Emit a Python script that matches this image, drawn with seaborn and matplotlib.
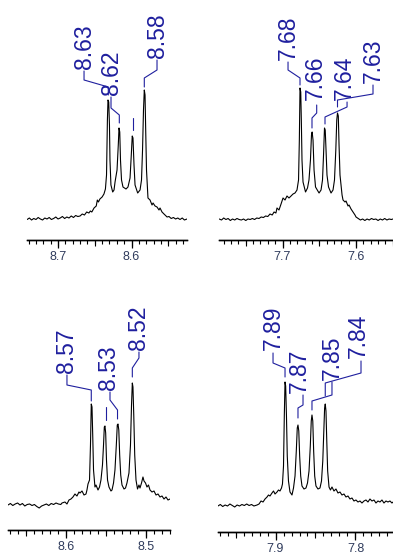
import matplotlib
matplotlib.use("Agg")
import matplotlib.pyplot as plt
from matplotlib.ticker import MultipleLocator, FuncFormatter, NullFormatter
import seaborn as sns
import pandas as pd

sns.set_style("ticks")
plt.rcParams["font.family"] = ["Liberation Sans", "DejaVu Sans"]

# ---------------- data (ppm, intensity) ----------------
spec_a = [
    (8.742, 0.5), (8.739, 2), (8.736, 0), (8.733, 1.5), (8.730, 0.5), (8.727, 2.5),
    (8.724, 1), (8.721, 0), (8.718, 2), (8.715, 1), (8.712, 2.5), (8.709, 0.5),
    (8.706, 1.5), (8.703, 3), (8.700, 1), (8.697, 2), (8.694, 3.5), (8.691, 1.5),
    (8.688, 3), (8.685, 2), (8.682, 4), (8.679, 2.5), (8.676, 4.5), (8.673, 3.5),
    (8.670, 4), (8.667, 6), (8.664, 5), (8.661, 8), (8.658, 7), (8.656, 9),
    (8.654, 8), (8.651, 12), (8.648, 14), (8.6465, 20), (8.645, 18), (8.643, 21),
    (8.640, 23), (8.6375, 26), (8.6355, 31), (8.634, 45), (8.6328, 100), (8.632, 120),
    (8.631, 118), (8.630, 95), (8.6293, 60), (8.628, 35), (8.6256, 28), (8.6238, 30),
    (8.6224, 38), (8.6197, 50), (8.618, 75), (8.617, 92), (8.616, 88), (8.615, 60),
    (8.6136, 40), (8.6116, 33), (8.6075, 31), (8.6048, 33), (8.602, 42), (8.6003, 65),
    (8.599, 84), (8.598, 82), (8.5966, 55), (8.5952, 35), (8.5916, 27), (8.5884, 30),
    (8.5864, 40), (8.585, 70), (8.5837, 110), (8.5826, 130), (8.5816, 125), (8.5807, 90),
    (8.5796, 50), (8.5776, 22), (8.5748, 20), (8.5721, 15), (8.5707, 17), (8.568, 14),
    (8.5653, 13), (8.5626, 10), (8.5612, 12), (8.5585, 8), (8.5558, 6), (8.553, 4),
    (8.5517, 3), (8.549, 3.5), (8.546, 1.5), (8.543, 2.5), (8.540, 1), (8.537, 2),
    (8.534, 0.5), (8.531, 2), (8.528, 0), (8.5245, 1),
]

spec_b = [
    (7.786, 1), (7.783, 0), (7.780, 2), (7.777, 0.5), (7.774, 1.5), (7.771, -0.5),
    (7.768, 1), (7.765, 0), (7.762, 1.5), (7.759, 0.5), (7.756, 0), (7.753, 1),
    (7.750, -0.5), (7.747, 1), (7.744, 0.5), (7.741, 1.5), (7.738, 0.5), (7.735, 2),
    (7.732, 1.5), (7.729, 3), (7.726, 2.5), (7.723, 4), (7.720, 3.5), (7.717, 6),
    (7.714, 5), (7.7115, 8), (7.709, 7), (7.7075, 12), (7.7048, 10), (7.702, 16),
    (7.6993, 22), (7.6966, 20), (7.6939, 24), (7.6912, 22), (7.6884, 24), (7.6857, 26),
    (7.683, 27), (7.6803, 30), (7.6782, 40), (7.6771, 80), (7.6762, 132), (7.6752, 128),
    (7.6744, 100), (7.6735, 60), (7.6721, 38), (7.6687, 28), (7.666, 32), (7.664, 40),
    (7.662, 60), (7.6606, 85), (7.6597, 88), (7.6585, 80), (7.6571, 50), (7.6551, 33),
    (7.6503, 27), (7.6476, 30), (7.6456, 40), (7.6442, 65), (7.6429, 92), (7.6419, 90),
    (7.6408, 70), (7.6395, 45), (7.6374, 33), (7.634, 27), (7.6313, 30), (7.6293, 40),
    (7.6275, 70), (7.6262, 100), (7.6252, 107), (7.6241, 104), (7.6231, 75), (7.6218, 45),
    (7.619, 25), (7.6177, 20), (7.615, 18), (7.6136, 19), (7.6109, 14), (7.6095, 15),
    (7.6068, 11), (7.6041, 8), (7.6014, 5), (7.600, 3), (7.597, 1.5), (7.594, 0),
    (7.591, 1), (7.588, -0.5), (7.585, 1), (7.582, 0), (7.579, 1.5), (7.576, 0.5),
    (7.573, 1), (7.570, -0.5), (7.567, 1), (7.564, 0), (7.561, 1.5), (7.558, 0),
    (7.555, 1), (7.552, 0.5), (7.5497, 1),
]

spec_c = [
    (8.6725, 0), (8.6695, 1.5), (8.6665, -0.5), (8.6635, 1), (8.6605, 2), (8.6575, 0),
    (8.6545, 1.5), (8.6515, -1), (8.6485, 0.5), (8.6455, 1), (8.6425, -0.5), (8.6395, 0.5),
    (8.6365, -1.5), (8.6335, -3), (8.6305, -1), (8.6275, 0), (8.6245, 1), (8.6215, -0.5),
    (8.6185, 1.5), (8.6155, 0.5), (8.6125, 2), (8.6095, 1), (8.6065, 0.5),
    (8.605, 2), (8.6013, 3), (8.5988, 1), (8.5963, 5), (8.5938, 6), (8.5913, 8),
    (8.5888, 11), (8.5863, 9), (8.5838, 13), (8.5825, 12), (8.58, 14), (8.5775, 10),
    (8.575, 11), (8.5738, 15), (8.5725, 21), (8.5706, 25), (8.5694, 60), (8.5684, 101),
    (8.5675, 98), (8.5666, 70), (8.5656, 35), (8.5638, 18), (8.5625, 20), (8.56, 15),
    (8.5581, 18), (8.5563, 25), (8.5544, 40), (8.5531, 60), (8.5521, 78), (8.5513, 79),
    (8.5504, 72), (8.5494, 45), (8.5481, 25), (8.5463, 18), (8.5438, 14), (8.5425, 15),
    (8.5406, 22), (8.5388, 35), (8.5371, 60), (8.5359, 80), (8.535, 81), (8.534, 75),
    (8.5329, 50), (8.5316, 30), (8.53, 20), (8.5275, 16), (8.5256, 17), (8.5238, 22),
    (8.5213, 32), (8.5194, 60), (8.5181, 100), (8.5171, 122), (8.5163, 118), (8.5153, 90),
    (8.5141, 50), (8.5125, 25), (8.5106, 16), (8.5088, 20), (8.5075, 17), (8.5056, 22),
    (8.5038, 28), (8.5025, 24), (8.5006, 22), (8.4988, 18), (8.4969, 20), (8.495, 15),
    (8.4925, 13), (8.49, 14), (8.4875, 10), (8.485, 11), (8.4825, 8), (8.48, 9),
    (8.4775, 6), (8.475, 8), (8.4725, 5), (8.47, 6),
]

spec_d = [
    (7.972, 0), (7.969, 1.5), (7.966, -0.5), (7.963, 1), (7.960, 0), (7.957, 2),
    (7.954, 0.5), (7.951, -1), (7.948, 1), (7.945, 0), (7.942, 1.5), (7.939, 0.5),
    (7.936, 2), (7.933, 0.5), (7.930, 1.5), (7.927, 0), (7.9231, 1), (7.9206, 2),
    (7.9181, 5), (7.9156, 4), (7.9131, 7), (7.9106, 9), (7.9088, 11), (7.9069, 10),
    (7.9044, 13), (7.9025, 15), (7.9006, 12), (7.8981, 14), (7.8963, 16), (7.8944, 15),
    (7.8925, 18), (7.8913, 22), (7.89, 40), (7.889, 90), (7.8881, 124), (7.8873, 120),
    (7.8863, 90), (7.8853, 50), (7.8838, 25), (7.8819, 14), (7.8794, 11), (7.8775, 18),
    (7.8756, 30), (7.874, 55), (7.8728, 78), (7.8719, 81), (7.8709, 75), (7.8698, 50),
    (7.8685, 30), (7.8669, 20), (7.8644, 17), (7.8619, 18), (7.86, 23), (7.8581, 35),
    (7.8565, 60), (7.8553, 85), (7.8544, 91), (7.8534, 85), (7.8523, 55), (7.851, 30),
    (7.8494, 20), (7.8469, 17), (7.8444, 18), (7.8425, 25), (7.8409, 45), (7.8396, 75),
    (7.8386, 98), (7.8378, 102), (7.8369, 95), (7.8359, 65), (7.8348, 35), (7.8331, 19),
    (7.8313, 16), (7.8294, 19), (7.8269, 15), (7.8244, 17), (7.8219, 13), (7.8194, 14),
    (7.8169, 11), (7.8144, 12), (7.8119, 9), (7.8094, 10), (7.8069, 7), (7.8044, 8),
    (7.8019, 5), (7.7994, 6), (7.7969, 4), (7.7944, 5), (7.7919, 3), (7.7894, 5),
    (7.7869, 6), (7.7844, 4), (7.7819, 7), (7.7794, 5), (7.7769, 6), (7.7744, 3),
    (7.7719, 5), (7.7694, 4), (7.7669, 6), (7.7644, 3), (7.7619, 5), (7.7594, 4),
    (7.7569, 5), (7.7544, 3), (7.753, 4),
]

# peak labels (text) for each panel
labels_a = ["8.63", "8.62", "", "8.58"]
labels_b = ["7.68", "7.66", "7.64", "7.63"]
labels_c = ["8.57", "", "8.53", "8.52"]
labels_d = ["7.89", "7.87", "7.85", "7.84"]

# ---------------- layout (label text anchor + leader polyline) ----------------
lay_a = [
    (8.6646, 151, [(8.6646, 149), (8.6646, 140), (8.6316, 133), (8.6316, 125)]),
    (8.6279, 125, [(8.6279, 123), (8.6279, 112), (8.6166, 105), (8.6166, 97)]),
    (None, None, [(8.5976, 102), (8.5976, 90)]),
    (8.5653, 162, [(8.5653, 160), (8.5653, 150), (8.5826, 142), (8.5826, 133)]),
]
lay_b = [
    (7.6925, 160, [(7.6925, 158), (7.6925, 150), (7.6762, 142), (7.6762, 135)]),
    (7.6558, 120, [(7.6535, 115), (7.6535, 107), (7.6599, 102), (7.6599, 92)]),
    (7.6163, 120, [(7.6122, 118), (7.6122, 113), (7.6422, 103), (7.6422, 96)]),
    (7.5769, 137, [(7.5769, 135), (7.5769, 126), (7.6252, 120), (7.6252, 113)]),
]
lay_c = [
    (8.6000, 132, [(8.5988, 130), (8.5988, 120), (8.5684, 115), (8.5684, 104)]),
    (None, None, [(8.5506, 98), (8.5506, 85)]),
    (8.5463, 115, [(8.5450, 113), (8.5450, 105), (8.5356, 95), (8.5356, 86)]),
    (8.5088, 155, [(8.5088, 153), (8.5088, 147), (8.5171, 137), (8.5171, 128)]),
]
lay_d = [
    (7.9031, 156, [(7.9031, 153), (7.9031, 143), (7.8881, 138), (7.8881, 129)]),
    (7.8706, 113, [(7.8656, 111), (7.8656, 101), (7.8719, 98), (7.8719, 88)]),
    (7.8294, 126, [(7.8294, 124), (7.8294, 111), (7.8544, 105), (7.8544, 96)]),
    (7.7969, 148, [(7.7931, 145), (7.7931, 133), (7.8378, 123), (7.8378, 110)]),
]

W, H = 393, 554
panels = [
    # spec, labels, layout, xlim, ylim, (x0px, x1px, axis_y_px, top_y_px)
    (spec_a, labels_a, lay_a, (8.7422, 8.5245), (-20, 220), (27, 187, 240, 0)),
    (spec_b, labels_b, lay_b, (7.7864, 7.5497), (-20, 220), (219, 393, 240, 0)),
    (spec_c, labels_c, lay_c, (8.6725, 8.4700), (-25, 225), (8, 170, 530, 280)),
    (spec_d, labels_d, lay_d, (7.9719, 7.7531), (-26, 226), (218, 393, 532, 280)),
]

LBL = "#1f1f9e"
TICKC = "#2f3b5c"

fig = plt.figure(figsize=(W / 100, H / 100), dpi=100)
fig.patch.set_facecolor("white")

for spec, labels, lay, xlim, ylim, (x0, x1, ay, ty) in panels:
    ax = fig.add_axes([x0 / W, (H - ay) / H, (x1 - x0) / W, (ay - ty) / H])
    ax.set_facecolor("none")
    df = pd.DataFrame(spec, columns=["ppm", "intensity"])
    sns.lineplot(data=df, x="ppm", y="intensity", ax=ax, color="black",
                 linewidth=0.8, estimator=None, sort=False)
    ax.set_xlim(*xlim)
    ax.set_ylim(*ylim)
    for s in ["top", "left", "right"]:
        ax.spines[s].set_visible(False)
    ax.spines["bottom"].set_linewidth(1.0)
    ax.spines["bottom"].set_color("black")
    ax.set_yticks([])
    ax.set_xlabel("")
    ax.set_ylabel("")
    ax.xaxis.set_major_locator(MultipleLocator(0.1))
    ax.xaxis.set_minor_locator(MultipleLocator(0.01))
    ax.xaxis.set_major_formatter(FuncFormatter(lambda v, p: f"{v:.1f}"))
    ax.tick_params(axis="x", which="both", bottom=True, top=False)
    ax.tick_params(axis="x", which="major", direction="out", length=6, width=0.9,
                   color="black", pad=2, labelsize=9, labelcolor=TICKC)
    ax.tick_params(axis="x", which="minor", direction="out", length=3, width=0.8,
                   color="black")
    sec = ax.secondary_xaxis("bottom")
    sec.xaxis.set_major_locator(MultipleLocator(0.05))
    sec.xaxis.set_major_formatter(NullFormatter())
    sec.tick_params(axis="x", which="major", bottom=True, direction="out",
                    length=4.5, width=0.8, color="black")
    sec.tick_params(axis="x", which="minor", length=0)
    sec.spines["bottom"].set_linewidth(1.0)
    sec.spines["bottom"].set_color("black")

    for lab, (tx, tyv, pts) in zip(labels, lay):
        xs = [p[0] for p in pts]
        ys = [p[1] for p in pts]
        ax.plot(xs, ys, color=LBL, linewidth=0.8, clip_on=False)
        if lab:
            ax.text(tx, tyv, lab, rotation=90, ha="center", va="bottom",
                    fontsize=16.5, color=LBL, clip_on=False)

fig.savefig("out.png", dpi=100, facecolor="white")
